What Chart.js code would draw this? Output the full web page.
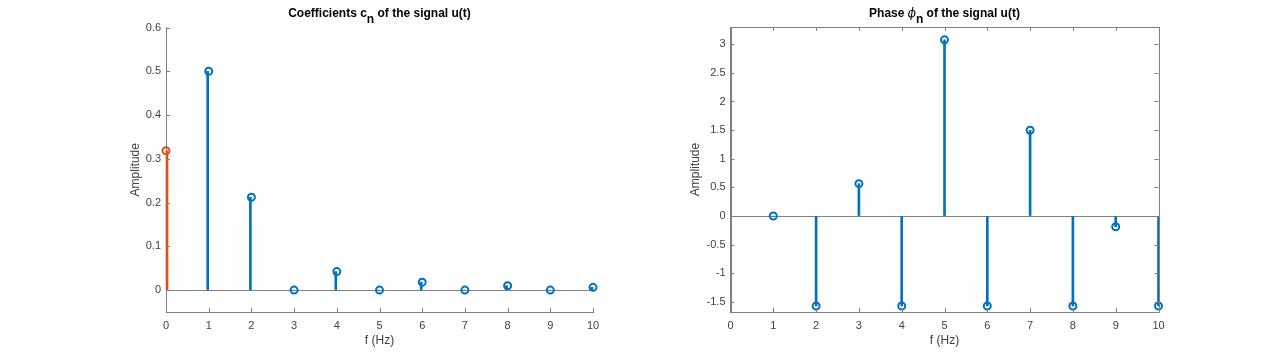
<!DOCTYPE html>
<html><head><meta charset="utf-8">
<script src="https://cdn.jsdelivr.net/npm/chart.js@4"></script>
<style>
html,body{margin:0;padding:0;background:#fff;width:1280px;height:352px;overflow:hidden}
.c{position:absolute;top:0;width:640px;height:352px}
</style></head><body>
<div class="c" style="left:0"><canvas id="c1" width="640" height="352"></canvas></div>
<div class="c" style="left:640px"><canvas id="c2" width="640" height="352"></canvas></div>
<script>
// ---- data ----
const dcFreq = [0];
const dcValue = [0.3183];
const harmFreqs = [1, 2, 3, 4, 5, 6, 7, 8, 9, 10];
const coefValues = [0.5, 0.2122, 0, 0.0424, 0, 0.0182, 0, 0.0101, 0, 0.0064];
const phaseValues = [0, -1.5708, 0.565, -1.5708, 3.076, -1.5708, 1.498, -1.5708, -0.186, -1.5708];
const xTicks = [0, 1, 2, 3, 4, 5, 6, 7, 8, 9, 10];
const coefTicks = [0, 0.1, 0.2, 0.3, 0.4, 0.5, 0.6];
const phaseTicks = [-1.5, -1, -0.5, 0, 0.5, 1, 1.5, 2, 2.5, 3];

const BLUE = '#0072BD', ORANGE = '#D95319', AXIS = '#808080', TXT = '#404040';
const FONT = 'Liberation Sans, Arial, Helvetica, sans-serif';

function pts(xs, ys) { return xs.map((x, i) => ({x: x, y: ys[i]})); }

const innerTicks = {
  id: 'innerTicks',
  afterDraw(chart, args, o) {
    const {ctx, chartArea: a} = chart;
    const xs = chart.scales.x, ys = chart.scales.y;
    const L = 4;
    ctx.save();
    ctx.strokeStyle = AXIS; ctx.lineWidth = 1;
    ctx.beginPath();
    if (o.box) {
      ctx.rect(Math.round(a.left) + 0.5, Math.round(a.top) + 0.5, Math.round(a.right - a.left), Math.round(a.bottom - a.top));
    }
    xs.ticks.forEach(t => {
      const p = Math.round(xs.getPixelForValue(t.value)) + 0.5;
      ctx.moveTo(p, a.bottom); ctx.lineTo(p, a.bottom - L);
      if (o.box) { ctx.moveTo(p, a.top); ctx.lineTo(p, a.top + L); }
    });
    ys.ticks.forEach(t => {
      const p = Math.round(ys.getPixelForValue(t.value)) + 0.5;
      ctx.moveTo(a.left, p); ctx.lineTo(a.left + L, p);
      if (o.box) { ctx.moveTo(a.right, p); ctx.lineTo(a.right - L, p); }
    });
    ctx.stroke();
    ctx.restore();
  }
};

const subTitle = {
  id: 'subTitle',
  afterDraw(chart, args, o) {
    const {ctx, chartArea: a} = chart;
    ctx.save();
    ctx.fillStyle = '#000';
    ctx.textBaseline = 'alphabetic';
    let w = 0;
    o.parts.forEach(p => { ctx.font = p.font; p.w = ctx.measureText(p.text).width; w += p.w; });
    let x = (a.left + a.right) / 2 - w / 2;
    o.parts.forEach(p => {
      ctx.font = p.font;
      ctx.textAlign = 'left';
      ctx.fillText(p.text, x, o.baseline + (p.dy || 0));
      x += p.w;
    });
    ctx.restore();
  }
};

function makeChart(id, datasets, yMin, yMax, yTickVals, pad, yTitlePad, box, titleParts) {
  return new Chart(document.getElementById(id), {
    type: 'bar',
    data: {datasets: datasets},
    options: {
      responsive: false, animation: false, devicePixelRatio: 1,
      layout: {padding: pad},
      plugins: {legend: {display: false}, tooltip: {enabled: false}, title: {display: false},
        innerTicks: {box: box}, subTitle: {parts: titleParts, baseline: 16.5}},
      scales: {
        x: {
          type: 'linear', min: 0, max: 10, offset: false,
          afterBuildTicks: s => { s.ticks = xTicks.map(v => ({value: v})); },
          afterFit: s => { s.height = 40; },
          grid: {display: false, offset: false, drawTicks: false},
          border: {display: true, color: AXIS, width: 1},
          ticks: {color: TXT, font: {family: FONT, size: 11}, padding: 7, maxRotation: 0, autoSkip: false},
          title: {display: true, text: 'f (Hz)', color: TXT, font: {family: FONT, size: 12}, padding: {top: 0, bottom: 4}}
        },
        y: {
          type: 'linear', min: yMin, max: yMax,
          afterBuildTicks: s => { s.ticks = yTickVals.map(v => ({value: v})); },
          afterFit: s => { s.width = 50; },
          grid: {display: true, drawTicks: false, drawOnChartArea: true,
            color: c => (c.tick && c.tick.value === 0) ? AXIS : 'rgba(0,0,0,0)', lineWidth: 1},
          border: {display: true, color: AXIS, width: 1},
          ticks: {color: TXT, font: {family: FONT, size: 11}, padding: 5, autoSkip: false,
            callback: v => String(v)},
          title: {display: true, text: 'Amplitude', color: TXT, font: {family: FONT, size: 12}, padding: {top: yTitlePad, bottom: 0}}
        }
      }
    },
    plugins: [innerTicks, subTitle]
  });
}

const B = 'bold 12px ' + FONT;
makeChart('c1', [
  {type: 'scatter', data: pts(harmFreqs, coefValues), borderColor: BLUE, backgroundColor: 'rgba(0,0,0,0)',
    pointRadius: 3.5, borderWidth: 2, pointBorderWidth: 2, order: 0, clip: false},
  {type: 'scatter', data: pts(dcFreq, dcValue), borderColor: ORANGE, backgroundColor: 'rgba(0,0,0,0)',
    pointRadius: 3.5, borderWidth: 2, pointBorderWidth: 2, order: 0, clip: false},
  {type: 'bar', data: pts(harmFreqs, coefValues), backgroundColor: BLUE, barThickness: 2, borderWidth: 0, order: 1, clip: false},
  {type: 'bar', data: pts(dcFreq, dcValue), backgroundColor: ORANGE, barThickness: 2, borderWidth: 0, order: 1, clip: false}
], -0.05, 0.6, coefTicks, {left: 116, right: 47, top: 27.5, bottom: 0}, 12, false,
  [{text: 'Coefficients c', font: B}, {text: 'n', font: B, dy: 6}, {text: ' of the signal u(t)', font: B}]);

makeChart('c2', [
  {type: 'scatter', data: pts(harmFreqs, phaseValues), borderColor: BLUE, backgroundColor: 'rgba(0,0,0,0)',
    pointRadius: 3.5, borderWidth: 2, pointBorderWidth: 2, order: 0, clip: false},
  {type: 'bar', data: pts(harmFreqs, phaseValues), backgroundColor: BLUE, barThickness: 2, borderWidth: 0, order: 1, clip: false}
], -1.675, 3.3, phaseTicks, {left: 40.5, right: 121.5, top: 27, bottom: 0}, 7.5, true,
  [{text: 'Phase ', font: B}, {text: 'ϕ', font: 'italic 12px DejaVu Serif, serif'}, {text: 'n', font: B, dy: 6}, {text: ' of the signal u(t)', font: B}]);
</script>
</body></html>
